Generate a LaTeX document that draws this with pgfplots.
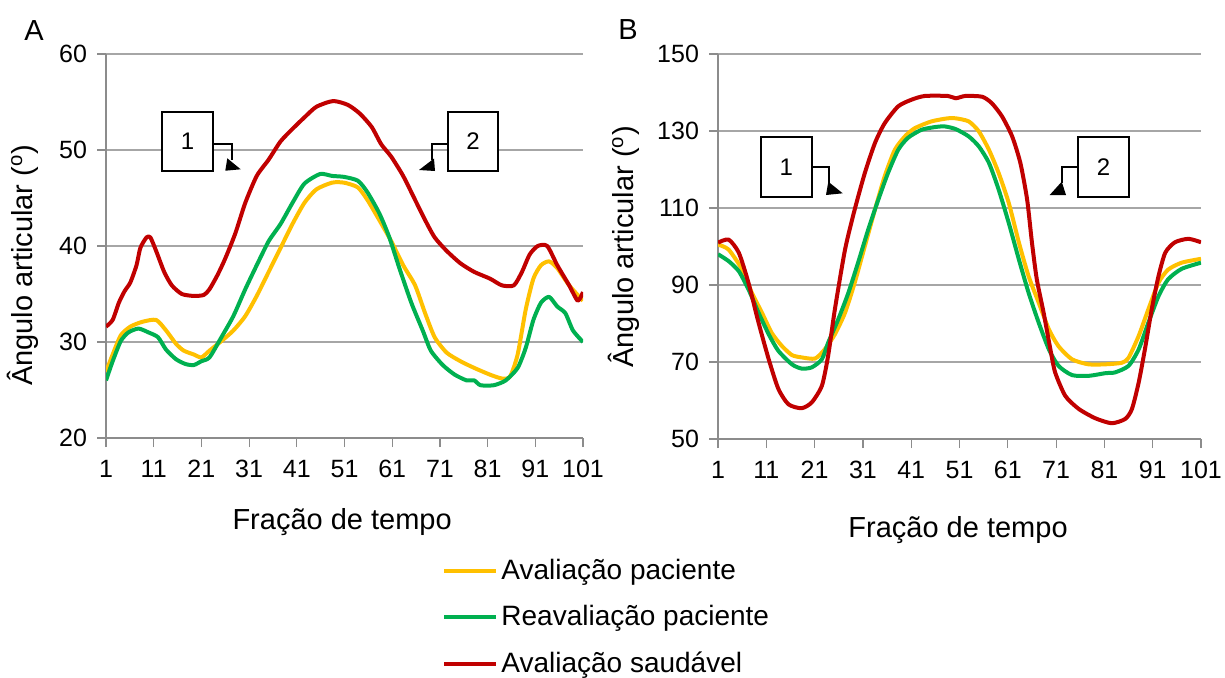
\documentclass[border=0pt]{standalone}
\usepackage{pgfplots}
\pgfplotsset{compat=1.18}
\usepackage{fontspec}
\setmainfont{Liberation Sans}

\definecolor{cyel}{HTML}{FFC000}
\definecolor{cgrn}{HTML}{00B050}
\definecolor{cred}{HTML}{C00000}
\definecolor{cgrid}{HTML}{A6A6A6}
\definecolor{caxis}{HTML}{8C8C8C}

\pgfplotsset{
  panel/.style={
    scale only axis,
    anchor=south west,
    xmin=1, xmax=101,
    xtick={1,11,...,101},
    axis lines*=left,
    xtick pos=bottom, ytick pos=left,
    axis line style={caxis, line width=0.7pt, -},
    ymajorgrids,
    major grid style={cgrid, line width=0.6pt},
    tick style={caxis, line width=0.6pt},
    tick align=outside,
    major tick length=4.5pt,
    ticklabel style={font=\fontsize{12.5}{14}\selectfont},
    xticklabel style={yshift=-3pt},
    yticklabel style={xshift=-1.5pt},
    /pgf/number format/assume math mode=true,
    label style={font=\fontsize{14.5}{17}\selectfont},
  },
  crv/.style={line width=2pt, line join=round, smooth, tension=0.4, no markers},
}

\begin{document}
\begin{tikzpicture}
\path[use as bounding box] (0,0) rectangle (612.5pt,338.5pt);

% painel A
\begin{axis}[panel,
  at={(53pt,119.5pt)}, width=238.5pt, height=192pt,
  ymin=20, ymax=60, ytick={20,30,...,60},
  xlabel={Fração de tempo},
  ylabel={Ângulo articular (\textsuperscript{o})},
  xlabel style={at={(axis description cs:0.495,-0.219)}, anchor=center},
  ylabel style={at={(axis description cs:-0.174,0.45)}, anchor=center},
  legend style={at={(axis description cs:0.7044,-0.307)}, anchor=north west,
    draw=none, fill=none, font=\fontsize{14}{16}\selectfont,
    row sep=8.5pt, inner sep=0pt, nodes={inner sep=1.5pt}},
  legend cell align=left,
  legend image code/.code={\draw[#1] (0pt,0pt) -- (26pt,0pt);},
]
\addplot[crv, cyel] coordinates {
(1,26.9)(2.4,28.7)(4.1,30.7)(6.1,31.6)(8.6,32.1)(11.5,32.3)(13.6,31.2)(15.7,29.8)
(17.3,29.1)(19.4,28.7)(21,28.4)(22.7,29.1)(25.2,30.1)(27.7,31.2)(30.2,32.7)(32.6,34.8)
(35.1,37.3)(37.6,39.8)(40.1,42.3)(42.6,44.5)(45.1,45.9)(48.4,46.6)(50.9,46.6)(53.8,46.1)
(55.8,44.8)(58.3,42.7)(60.8,40.5)(63.3,38)(65.8,35.9)(67.9,33)(69.9,30.5)(72.4,28.9)
(75.3,28)(78.2,27.3)(81.5,26.6)(84,26.2)(85.7,26.4)(87.3,28.7)(89,33.4)(90.6,36.6)
(92.2,38)(93.9,38.4)(95.6,37.7)(98.1,35.9)(101,34.3)};
\addlegendentry{Avaliação paciente}
\addplot[crv, cgrn] coordinates {
(1,26)(2.4,28)(4.1,30.1)(5.7,31)(7.8,31.4)(9.9,31)(11.9,30.5)(13.6,29.2)(15.7,28.2)
(17.7,27.7)(19.4,27.6)(21,28)(22.7,28.4)(25.2,30.5)(27.7,32.7)(30.2,35.5)(32.6,38)
(35.1,40.5)(37.6,42.3)(40.1,44.5)(42.6,46.5)(45.9,47.5)(48.4,47.3)(50.9,47.2)(53.8,46.8)
(55.8,45.6)(58.3,43.4)(60.4,40.9)(62.5,37.7)(65,34.1)(67.4,31.2)(69.1,29.1)(71.6,27.6)
(74.1,26.6)(76.6,26)(78.2,26)(79.5,25.5)(82.3,25.5)(84.8,26)(87.3,27.3)(89,29.4)
(90.6,32.3)(92.2,34.1)(93.9,34.7)(95.6,33.7)(97.3,33)(98.9,31.2)(101,30)};
\addlegendentry{Reavaliação paciente}
\addplot[crv, cred] coordinates {
(1,31.6)(2.4,32.3)(3.7,34.1)(4.9,35.3)(6.1,36.2)(7.4,38)(8.2,39.8)(9.5,40.9)(10.3,40.9)
(11.5,39.5)(13.2,37.3)(14.8,35.9)(16.9,35)(19.4,34.8)(21.5,34.9)(22.7,35.5)(24.4,37)
(26,38.7)(28.1,41.3)(30.2,44.5)(32.6,47.3)(35.1,49)(37.6,50.9)(40.1,52.2)(42.6,53.4)
(45.1,54.5)(48.6,55.1)(51.7,54.7)(54.2,53.8)(56.7,52.4)(58.7,50.6)(60.8,49.3)(63.3,47.3)
(65.8,44.8)(67.9,42.7)(69.9,40.9)(72.4,39.5)(75.3,38.2)(78.2,37.3)(81.5,36.6)(84,35.9)
(86.5,35.9)(88.2,37.3)(89.8,39.1)(91.5,40)(93.5,40)(95.6,38)(98.1,35.9)(99.9,34.3)(101,35.2)};
\addlegendentry{Avaliação saudável}
\end{axis}

% painel B
\begin{axis}[panel,
  at={(359pt,119pt)}, width=241.5pt, height=192.5pt,
  ymin=50, ymax=150, ytick={50,70,...,150},
  xlabel={Fração de tempo},
  ylabel={Ângulo articular (\textsuperscript{o})},
  xlabel style={at={(axis description cs:0.497,-0.236)}, anchor=center},
  ylabel style={at={(axis description cs:-0.195,0.499)}, anchor=center},
]
\addplot[crv, cyel] coordinates {
(1,100.5)(3.2,99.2)(6,94)(8,88)(10.1,82.8)(12.1,77.6)(14.2,74.2)(16.3,71.8)(18.3,71.2)
(21.1,70.9)(23.1,73.3)(25.2,77.2)(27.3,82.8)(29.3,90.6)(31.4,100.1)(33.5,109.6)(35.5,118.2)
(37.6,125.1)(39.7,128.6)(41.7,130.7)(45.2,132.5)(48.6,133.3)(50.2,133.3)(52.9,132.5)
(55,129.9)(57.1,125.1)(59.1,119.1)(61.2,111.3)(63.3,101)(65.3,92.3)(67.4,85.4)(69.5,78.5)
(71.5,74.1)(74.3,70.7)(77.7,69.4)(81.2,69.4)(84.6,69.8)(86,71.1)(88.1,76.8)(90.1,83.7)
(92.2,90.6)(94.2,94)(97,95.8)(101,96.8)};
\addplot[crv, cgrn] coordinates {
(1,98)(3.2,96.2)(5.3,93.6)(7.3,88.9)(9.4,82.8)(11.5,77.2)(13.5,72.9)(16.3,69.4)(18.3,68.3)
(20.4,68.6)(22.5,70.7)(23.8,75)(25.9,81.1)(28,88)(30,95.8)(32.1,104.4)(34.2,112.2)
(36.2,119.1)(38.3,125.1)(40.3,128.2)(43.1,130.3)(45.8,131)(47.9,131.2)(50.2,130.5)
(52.9,128.6)(55,126)(57.1,121.7)(59.1,114.8)(61.2,106.1)(63.3,96.6)(65.3,88)(67.4,80.2)
(69.5,73.3)(71.5,69)(74.3,66.6)(77.7,66.4)(81.2,67.1)(83.2,67.3)(86,69)(88.1,73.3)
(90.1,80.2)(92.2,87.1)(94.2,91.5)(97,94.2)(101,95.8)};
\addplot[crv, cred] coordinates {
(1,101)(3.2,101.8)(5.3,98.4)(7.3,90.6)(9.4,80.2)(11.5,70.7)(13.5,63)(15.6,59)(18.3,58)
(20.4,59.5)(22.5,63.8)(23.8,71.6)(25.2,83.7)(27.3,99.2)(29.3,109.6)(31.4,119.1)(33.5,126.9)
(35.5,132)(38.3,136.4)(41,138.1)(43.8,139.1)(48.6,139.1)(50.2,138.5)(52.2,139.1)(55.7,138.9)
(57.7,137.2)(59.8,133.8)(61.9,128.6)(63.6,121.7)(65,112.2)(66,101)(67,91.5)(68.4,82.9)
(69.8,73.4)(70.8,67.3)(72.9,61.2)(75.7,57.8)(79.1,55.4)(82.5,54.1)(85.3,55.2)(86.7,57.8)
(88.1,64.7)(89.4,73.4)(90.8,83.7)(92.2,92.3)(93.6,98.4)(95.6,101.1)(98.4,102)(101,101.1)};
\end{axis}

% letras dos paineis
\node[font=\fontsize{14.5}{17}\selectfont] at (17pt,323pt) {A};
\node[font=\fontsize{14.5}{17}\selectfont] at (314pt,323.5pt) {B};

% caixas de chamada (coordenadas em pixels da figura)
\begin{scope}[x=0.5pt, y=-0.5pt, shift={(0pt,338.5pt)}, line width=1pt,
  font=\fontsize{12}{14}\selectfont]
  \draw[fill=white] (162,112) rectangle (213,171);
  \node at (187.5,141.5) {1};
  \draw (213,144) -- (232,144) -- (232,160);
  \fill (227.3,158.3) -- (240.7,169.3) -- (225.3,170.7) -- cycle;

  \draw[fill=white] (448,112) rectangle (498,171);
  \node at (473,141.5) {2};
  \draw (448,144) -- (432,144) -- (432,160);
  \fill (434,158.5) -- (419,170) -- (435,171) -- cycle;

  \draw[fill=white] (760.7,137.3) rectangle (811.7,196.7);
  \node at (786.2,167) {1};
  \draw (811.7,167.3) -- (829.3,167.3) -- (829.3,183);
  \fill (828.3,181.7) -- (842.7,193.3) -- (826,195) -- cycle;

  \draw[fill=white] (1078.3,137.3) rectangle (1129,196.7);
  \node at (1103.6,167) {2};
  \draw (1078.3,167.3) -- (1062.3,167.3) -- (1062.3,183);
  \fill (1061.7,181.7) -- (1049.7,195) -- (1066,195) -- cycle;
\end{scope}
\end{tikzpicture}
\end{document}
